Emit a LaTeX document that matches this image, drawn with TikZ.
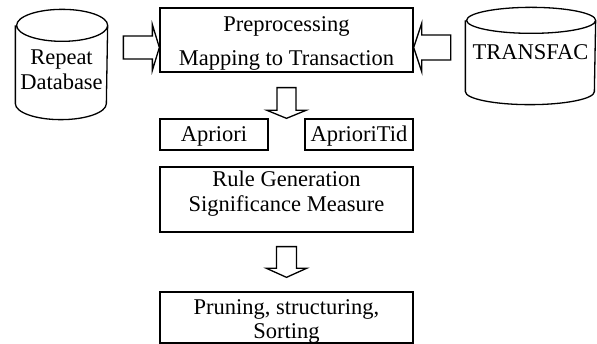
\documentclass[tikz,border=0pt]{standalone}
\usepackage{fontspec}
\setmainfont{Liberation Serif}
\usetikzlibrary{calc}

\begin{document}
\begin{tikzpicture}[x=1pt,y=-1pt,line width=1.3pt,
                    font=\fontsize{22.5}{25}\selectfont,
                    fat/.style n args={3}{to path={
                      ($(\tikztostart)!#1!-90:(\tikztotarget)$)
                      -- ($(\tikztotarget)!#3!(\tikztostart)!#1!90:(\tikztostart)$)
                      -- ($(\tikztotarget)!#3!(\tikztostart)!#2!90:(\tikztostart)$)
                      -- (\tikztotarget)
                      -- ($(\tikztotarget)!#3!(\tikztostart)!#2!-90:(\tikztostart)$)
                      -- ($(\tikztotarget)!#3!(\tikztostart)!#1!-90:(\tikztostart)$)
                      -- ($(\tikztostart)!#1!90:(\tikztotarget)$)
                      -- cycle}}]
  \tikzstyle{box}=[draw,rectangle,inner sep=0pt,align=center]
  \tikzstyle{db}=[rectangle,inner sep=0pt,align=center]

  \useasboundingbox (0,0) rectangle (597,344);

	\node[db,minimum width=91,minimum height=109,text height=55pt,text depth=4pt]
		(0) at (61.5,64.5) {Repeat\\Database};
	\node[box,minimum width=253,minimum height=64,text height=56pt,text depth=4pt]
		(1) at (286.5,40) {Preprocessing\\[9pt]Mapping to Transaction};
	\node[db,minimum width=129,minimum height=96,text height=15pt,text depth=7pt]
		(2) at (530.5,56) {TRANSFAC};
	\node[box,minimum width=108,minimum height=31,text height=15pt,text depth=0pt]
		(3) at (214,134.5) {Apriori};
	\node[box,minimum width=108,minimum height=31,text height=15pt,text depth=0pt]
		(4) at (359,134.5) {AprioriTid};
	\node[box,minimum width=253,minimum height=65,text height=40pt,text depth=15pt]
		(5) at (286.5,199.5) {Rule Generation\\Significance Measure};
	\node[box,minimum width=253,minimum height=49,text height=47pt,text depth=4pt]
		(6) at (286.5,317.5) {Pruning, structuring,\\[-1pt]Sorting};

	% the two databases
	\draw ([yshift=-16pt]0.north west) -- ([yshift=16pt]0.south west)
		arc[start angle=180,end angle=360,x radius=45.5pt,y radius=16pt]
		-- ([yshift=-16pt]0.north east)
		arc[start angle=0,end angle=360,x radius=45.5pt,y radius=16pt];
	\draw ([yshift=-13pt]2.north west) -- ([yshift=13pt]2.south west)
		arc[start angle=180,end angle=360,x radius=64.5pt,y radius=13pt]
		-- ([yshift=-13pt]2.north east)
		arc[start angle=0,end angle=360,x radius=64.5pt,y radius=13pt];

	% block arrows
	\coordinate (l0) at ($(1.west)+(-36,7.5)$);
	\coordinate (r0) at ($(1.east)+(37,7.5)$);
	\coordinate (d0) at ($(1.south)+(0,15)$);
	\coordinate (e0) at ($(5.south)+(0,14)$);
	\coordinate (e1) at ($(6.north)+(0,-14)$);

	\draw (l0) to[fat={11.5pt}{23pt}{7pt}] (1.west |- l0);
	\draw (r0) to[fat={12.5pt}{24pt}{8pt}] (1.east |- r0);
	\draw (d0) to[fat={9.5pt}{19.5pt}{8pt}] (d0 |- 3.north);
	\draw (e0) to[fat={10pt}{20pt}{9pt}] (e1);

\end{tikzpicture}
\end{document}
